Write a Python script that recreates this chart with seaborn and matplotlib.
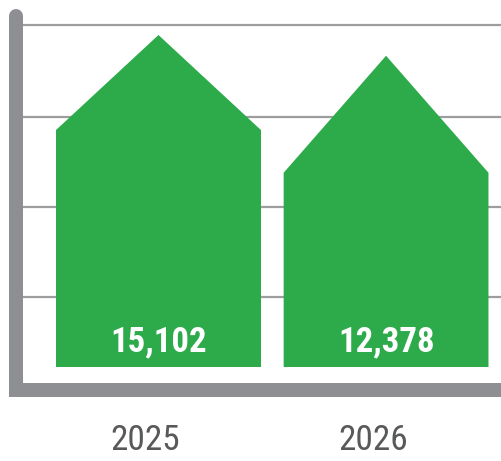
import matplotlib
matplotlib.use("Agg")
import matplotlib.pyplot as plt
import seaborn as sns
from matplotlib.patches import Polygon

# data
years = ["2025", "2026"]
values = [15102, 12378]
value_labels = ["15,102", "12,378"]

# style
green = "#2dab4b"
axis_gray = "#8e8f93"
grid_gray = "#9d9d9f"
text_gray = "#58595b"
roof_px = [95, 117]          # roof height of each house, in pixels
grid_px = [70, 160, 250, 342]  # gridline heights above bar base, in pixels

sns.set_theme(style="white")
plt.rcParams['font.family'] = ['Roboto Condensed', 'DejaVu Sans']
plt.rcParams['font.stretch'] = 'condensed'

W, H = 501, 461
fig = plt.figure(figsize=(W / 100, H / 100), dpi=100)
# axes: left spine centred at x=16, bottom spine centred at y=390, top at y=10
ax = fig.add_axes([16 / W, (H - 390) / H, (W - 16) / W, 380 / H])

k = values[0] / 237.0  # value units per pixel
ax.set_ylim(-23 * k, 357 * k)

sns.barplot(x=years, y=values, color=green, saturation=1, width=0.9,
            linewidth=0, ax=ax)
ax.set_xlim(-0.626, 1.505)

# house outline over each bar (walls + roof)
for p, r in zip(ax.patches, roof_px):
    x0, w, top = p.get_x(), p.get_width(), p.get_height()
    ax.add_patch(Polygon([(x0, 0), (x0, top), (x0 + w / 2, top + r * k),
                          (x0 + w, top), (x0 + w, 0)],
                         closed=True, facecolor=green, edgecolor="none",
                         zorder=p.get_zorder()))

# gridlines
ax.set_yticks([g * k for g in grid_px])
ax.yaxis.grid(True, color=grid_gray, linewidth=1.6)
ax.set_axisbelow(True)
ax.tick_params(left=False, bottom=False, labelleft=False, labelbottom=False)
ax.set_xlabel("")
ax.set_ylabel("")

# spines
sns.despine(ax=ax, top=True, right=True)
for side in ["left", "bottom"]:
    ax.spines[side].set_color(axis_gray)
    ax.spines[side].set_linewidth(14 * 0.72)
ax.spines["left"].set_bounds(-23 * k, 351 * k)
ax.spines["left"].set_capstyle("round")
ax.spines["bottom"].set_capstyle("projecting")

# value labels inside bars
for i, lab in enumerate(value_labels):
    ax.annotate(lab, xy=(i, 0), xytext=(0, 25 * 0.72), textcoords="offset points",
                ha="center", va="center", color="white", fontsize=25, fontweight="bold")

# year labels below axis
for i, yr in enumerate(years):
    ax.annotate(yr, xy=(i, 0), xycoords=("data", "axes fraction"),
                xytext=(-13 * 0.72, -50 * 0.72), textcoords="offset points",
                ha="center", va="center", color=text_gray, fontsize=25.5)

fig.savefig("out.png", dpi=100)
